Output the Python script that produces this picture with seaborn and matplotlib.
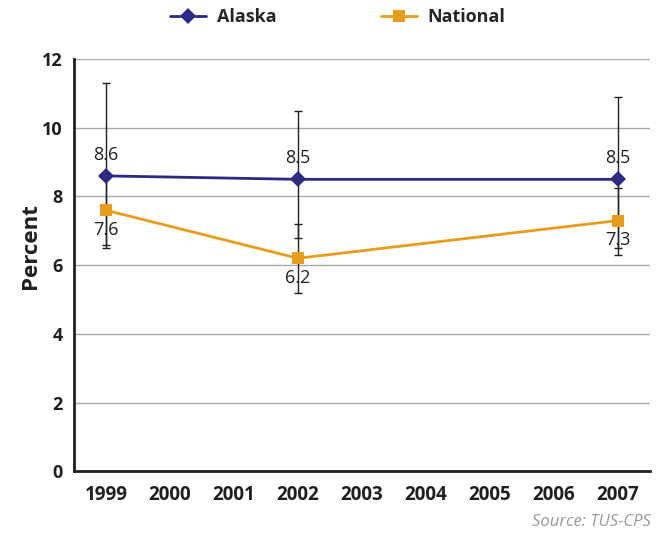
import pandas as pd
import numpy as np
import matplotlib.pyplot as plt
import seaborn as sns

years = ["1999", "2000", "2001", "2002", "2003", "2004", "2005", "2006", "2007"]
survey_years = ["1999", "2002", "2007"]
alaska = [8.6, 8.5, 8.5]
national = [7.6, 6.2, 7.3]
alaska_low = [6.5, 6.8, 6.5]
alaska_high = [11.3, 10.5, 10.9]
national_low = [6.6, 5.2, 6.3]
national_high = [8.6, 7.2, 8.25]

sns.set_style("white")
plt.rcParams["font.family"] = ["Open Sans", "DejaVu Sans"]

pos = [years.index(y) for y in survey_years]
df = pd.DataFrame({
    "x": pos * 2,
    "value": alaska + national,
    "series": ["Alaska"] * 3 + ["National"] * 3,
})

colors = {"Alaska": "#2b2a85", "National": "#e89c1c"}
dark = "#231f20"

fig = plt.figure(figsize=(6.66, 5.33), dpi=100)
ax = fig.add_axes([0.111, 0.116, 0.865, 0.773])

# error bars
for vals, lo, hi in [(alaska, alaska_low, alaska_high), (national, national_low, national_high)]:
    vals = np.array(vals)
    ax.errorbar(pos, vals, yerr=[vals - np.array(lo), np.array(hi) - vals],
                fmt="none", ecolor=dark, elinewidth=1.0, capsize=3, capthick=1.0, zorder=2)

sns.lineplot(data=df, x="x", y="value", hue="series", style="series",
             markers={"Alaska": "D", "National": "s"}, dashes=False,
             palette=colors, linewidth=2, markersize=8, markeredgewidth=0,
             ax=ax, zorder=3)

for x, v in zip(pos, alaska):
    ax.text(x, v + 0.35, f"{v:.1f}", ha="center", va="bottom", fontsize=13, color=dark)
for x, v in zip(pos, national):
    ax.text(x, v - 0.3, f"{v:.1f}", ha="center", va="top", fontsize=13, color=dark)

ax.set_xlim(-0.5, len(years) - 0.5)
ax.set_ylim(0, 12)
ax.set_yticks(range(0, 13, 2))
ax.set_xticks(range(len(years)))
ax.set_xticklabels(years, fontsize=13.5, fontweight="bold", color=dark)
ax.set_xticks(np.arange(-0.5, len(years)), minor=True)
ax.tick_params(axis="x", which="major", length=0, pad=10)
ax.tick_params(axis="x", which="minor", length=5, width=1.5, color=dark, direction="out")
ax.tick_params(axis="y", length=5, width=1.5, color=dark, direction="out", labelsize=13, pad=3)
for lab in ax.get_yticklabels():
    lab.set_fontweight("bold")
    lab.set_color(dark)

ax.yaxis.grid(True, color="#aaaaaa", linewidth=1)
ax.set_axisbelow(True)
for s in ["top", "right"]:
    ax.spines[s].set_visible(False)
for s in ["left", "bottom"]:
    ax.spines[s].set_color(dark)
    ax.spines[s].set_linewidth(2)

ax.set_xlabel("")
ax.set_ylabel("Percent", fontsize=16, fontweight="bold", color=dark)
ax.yaxis.set_label_coords(-0.058, 0.546)

leg = ax.legend(loc="center", bbox_to_anchor=(0.507, 0.968), bbox_transform=fig.transFigure,
                ncol=2, frameon=False, prop={"weight": "bold", "size": 13},
                columnspacing=5.8, handlelength=2.0, handletextpad=0.6)

fig.text(0.977, 0.005, "Source: TUS-CPS", ha="right", va="bottom", fontsize=12,
         style="italic", color="#999999")

fig.savefig("out.png", dpi=100)
